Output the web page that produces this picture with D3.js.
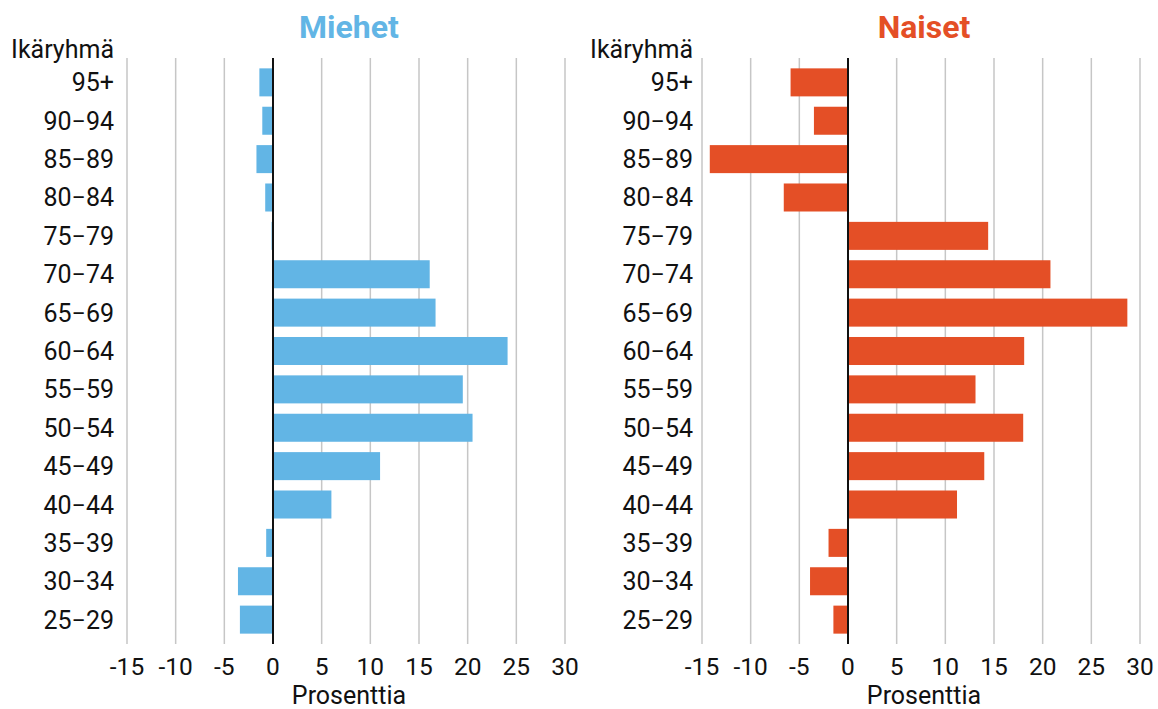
<!DOCTYPE html>
<html>
<head>
<meta charset="utf-8">
<script src="https://cdn.jsdelivr.net/npm/d3@7"></script>
<style>
  body { margin: 0; background: #fff; }
  svg { display: block; font-family: Roboto, "Noto Sans", sans-serif; }
</style>
</head>
<body>
<div id="chart"></div>
<script>
const ageGroups = ['95+', '90\u221294', '85\u221289', '80\u221284', '75\u221279', '70\u221274', '65\u221269',
    '60\u221264', '55\u221259', '50\u221254', '45\u221249', '40\u221244', '35\u221239', '30\u221234', '25\u221229'];
const men = [-1.4, -1.1, -1.7, -0.8, -0.15, 16.1, 16.7, 24.1, 19.5, 20.5, 11.0, 6.0, -0.7, -3.6, -3.4];
const women = [-5.9, -3.5, -14.2, -6.6, 14.4, 20.8, 28.7, 18.1, 13.1, 18.0, 14.0, 11.2, -2.0, -3.9, -1.5];
const xTicks = [-15, -10, -5, 0, 5, 10, 15, 20, 25, 30];
const xDomain = [-15, 30];

const width = 1158;
const height = 709;

const svg = d3.select('#chart').append('svg')
    .attr('width', width)
    .attr('height', height);

const y = d3.scaleBand()
    .domain(ageGroups)
    .range([58, 644])
    .paddingInner(0.27)
    .paddingOuter(0.27);

const panels = [
    { title: 'Miehet', values: men, color: '#62b5e5', x0: 127, x1: 565, labelX: 114 },
    { title: 'Naiset', values: women, color: '#e44f26', x0: 702, x1: 1140, labelX: 693 }
];

panels.forEach(p => {
    const x = d3.scaleLinear().domain(xDomain).range([p.x0, p.x1]);
    const g = svg.append('g');
    const mid = (p.x0 + p.x1) / 2;

    // gridlines
    g.selectAll('.grid')
        .data(xTicks.filter(t => t !== 0))
        .enter().append('line')
        .attr('x1', d => x(d)).attr('x2', d => x(d))
        .attr('y1', 58).attr('y2', 644)
        .attr('stroke', '#c6c6c6')
        .attr('stroke-width', 1.5);

    // bars
    g.selectAll('.bar')
        .data(p.values)
        .enter().append('rect')
        .attr('x', d => x(Math.min(0, d)))
        .attr('width', d => Math.abs(x(d) - x(0)))
        .attr('y', (d, i) => y(ageGroups[i]))
        .attr('height', y.bandwidth())
        .attr('fill', p.color);

    // zero line
    g.append('line')
        .attr('x1', x(0)).attr('x2', x(0))
        .attr('y1', 58).attr('y2', 644)
        .attr('stroke', '#111')
        .attr('stroke-width', 2);

    // age labels
    g.selectAll('.age')
        .data(ageGroups)
        .enter().append('text')
        .attr('x', p.labelX)
        .attr('y', d => y(d) + y.bandwidth() / 2)
        .attr('dy', '0.36em')
        .attr('text-anchor', 'end')
        .attr('font-size', 25)
        .attr('fill', '#111')
        .text(d => d);

    g.append('text')
        .attr('x', p.labelX)
        .attr('y', 58)
        .attr('text-anchor', 'end')
        .attr('font-size', 25)
        .attr('fill', '#111')
        .text('Ikäryhmä');

    // x tick labels
    g.selectAll('.tick')
        .data(xTicks)
        .enter().append('text')
        .attr('x', d => x(d))
        .attr('y', 675)
        .attr('text-anchor', 'middle')
        .attr('font-size', 24.5)
        .attr('fill', '#111')
        .text(d => d);

    g.append('text')
        .attr('x', mid + 3)
        .attr('y', 704)
        .attr('text-anchor', 'middle')
        .attr('font-size', 25)
        .attr('fill', '#111')
        .text('Prosenttia');

    // title
    g.append('text')
        .attr('x', mid + 3)
        .attr('y', 38)
        .attr('text-anchor', 'middle')
        .attr('font-size', 32)
        .attr('font-weight', 'bold')
        .attr('fill', p.color)
        .text(p.title);
});
</script>
</body>
</html>
